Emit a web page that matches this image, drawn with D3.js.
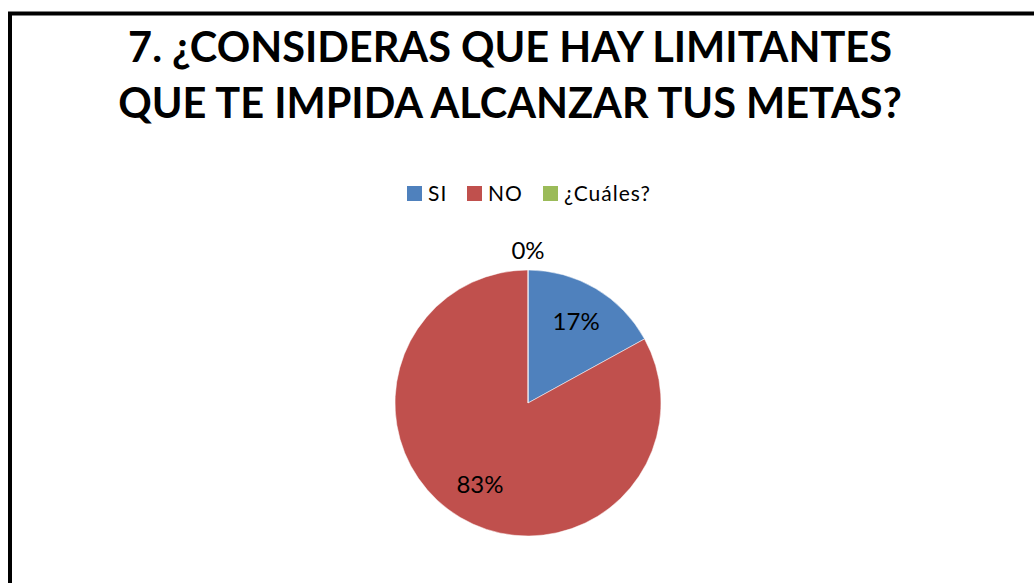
<!DOCTYPE html>
<html>
<head>
<meta charset="utf-8">
<script src="https://cdn.jsdelivr.net/npm/d3@7"></script>
<style>
  body { margin: 0; background: #fff; }
  svg { display: block; font-family: Lato, "Open Sans", sans-serif; }
</style>
</head>
<body>
<svg class="chart"></svg>
<script>
var width = 1034,
    height = 583;

var titleLines = ["7. ¿CONSIDERAS QUE HAY LIMITANTES", "QUE TE IMPIDA ALCANZAR TUS METAS?"];
var categories = ["SI", "NO", "¿Cuáles?"];
var values = [17, 83, 0];
var labels = ["17%", "83%", "0%"];

var z = d3.scaleOrdinal()
    .domain(categories)
    .range(["#4F81BD", "#C0504D", "#9BBB59"]);

var chart = d3.select(".chart")
    .attr("width", width)
    .attr("height", height);

// frame, only left and top edges show in the picture
chart.append("rect")
    .attr("x", 10)
    .attr("y", 13.5)
    .attr("width", width + 20)
    .attr("height", height + 20)
    .attr("fill", "none")
    .attr("stroke", "#000")
    .attr("stroke-width", 4);

chart.selectAll(".title")
    .data(titleLines)
    .enter().append("text")
      .attr("class", "title")
      .attr("x", 510)
      .attr("y", function(d, i) { return 62 + i * 56; })
      .attr("text-anchor", "middle")
      .style("font-weight", "bold")
      .style("font-size", "41.5px")
      .text(function(d) { return d; });

// legend
var legendX = [407, 467, 543];
var legend = chart.selectAll(".legend")
    .data(categories)
    .enter().append("g")
      .attr("class", "legend")
      .attr("transform", function(d, i) { return "translate(" + legendX[i] + ",186)"; });

legend.append("rect")
    .attr("width", 15)
    .attr("height", 15)
    .attr("fill", z);

legend.append("text")
    .attr("x", 21)
    .attr("y", 15)
    .style("font-size", "21px")
    .style("letter-spacing", "1px")
    .text(function(d) { return d; });

// pie
var radius = 133;
var pie = d3.pie().sort(null).value(function(d) { return d; });
var arc = d3.arc().innerRadius(0).outerRadius(radius);

var g = chart.append("g")
    .attr("transform", "translate(528,403)");

var arcs = pie(values);

g.selectAll(".slice")
    .data(arcs)
    .enter().append("path")
      .attr("class", "slice")
      .attr("d", arc)
      .attr("fill", function(d, i) { return z(categories[i]); })
      .attr("stroke", "#fff")
      .attr("stroke-width", 0.5);

var labelArc = d3.arc().innerRadius(radius * 0.71).outerRadius(radius * 0.71);
var outerArc = d3.arc().innerRadius(radius * 1.15).outerRadius(radius * 1.15);

g.selectAll(".lbl")
    .data(arcs)
    .enter().append("text")
      .attr("class", "lbl")
      .attr("transform", function(d) {
        var c = d.value === 0 ? outerArc.centroid(d) : labelArc.centroid(d);
        return "translate(" + c + ")";
      })
      .attr("dy", ".36em")
      .attr("text-anchor", "middle")
      .style("font-size", "24px")
      .text(function(d, i) { return labels[i]; });
</script>
</body>
</html>
